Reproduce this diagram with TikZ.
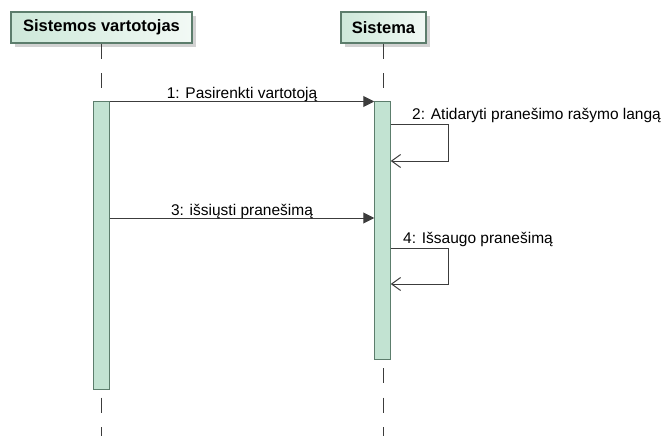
\documentclass[tikz,border=0pt]{standalone}
\usepackage{fontspec}
\setmainfont{Liberation Sans}
\usepackage{tikz}
\usetikzlibrary{arrows.meta}
\usetikzlibrary{shadows}
\usepackage{xcolor}

\definecolor{boxline}{HTML}{5C7D6C}
\definecolor{barfill}{HTML}{C2E3D2}
\definecolor{boxleft}{HTML}{CDE8D9}
\definecolor{boxright}{HTML}{F2F9F5}
\definecolor{msgline}{HTML}{3C3C3C}

\tikzset{
    actor/.style = {draw = boxline, line width = 1.3pt, left color = boxleft, right color = boxright,
        font = \bfseries\fontsize{16.5}{18}\selectfont, minimum height = 31pt, inner sep = 0pt,
        drop shadow = {shadow xshift = 4pt, shadow yshift = -4pt, fill = black!35}},
    lifeline/.style = {msgline, line width = 1pt, dash pattern = on 15pt off 14.5pt},
    bar/.style = {draw = boxline, line width = 1pt, fill = barfill, minimum width = 15.5pt, inner sep = 0pt},
    call/.style = {msgline, line width = 1pt, -{Triangle[length = 11pt, width = 11pt]}},
    selfcall/.style = {msgline, line width = 1pt, -{Straight Barb[length = 9pt, width = 13pt]}},
    msg/.style = {font = \fontsize{15.5}{17}\selectfont, inner sep = 0pt, text = black}
}

\begin{document}
\begin{tikzpicture}[x = 1pt, y = -1pt]
    \useasboundingbox (0,0) rectangle (670,436);

    \node[actor, minimum width = 181pt] (user) at (101.5,27.5) {Sistemos vartotojas};
    \node[actor, minimum width = 85pt] (sys) at (383.5,27.5) {Sistema};

    \coordinate (userend) at (101.5,436);
    \coordinate (sysend) at (383.5,436);
    \draw[lifeline] (user.south) -- (userend);
    \draw[lifeline] (sys.south) -- (sysend);

    \node[bar, minimum height = 287pt] (userbar) at (101.5,245.5) {};
    \node[bar, minimum height = 257pt] (sysbar) at (382.5,230.5) {};

    \draw[call] (userbar.north east) -- (sysbar.north west)
        node[msg, midway, anchor = base, yshift = 2.5pt] {1: Pasirenkti vartotoją};

    \draw[selfcall] (sysbar.east |- 0,124) -- ++(58,0) -- ++(0,37) -- (sysbar.east |- 0,161);
    \node[msg, anchor = base west] at (412,120) {2: Atidaryti pranešimo rašymo langą};

    \draw[call] (userbar.east |- 0,218) -- (sysbar.west |- 0,218)
        node[msg, midway, anchor = base, yshift = 2.5pt] {3: išsiųsti pranešimą};

    \draw[selfcall] (sysbar.east |- 0,248) -- ++(58,0) -- ++(0,36) -- (sysbar.east |- 0,284);
    \node[msg, anchor = base west] at (403,243) {4: Išsaugo pranešimą};
\end{tikzpicture}
\end{document}
